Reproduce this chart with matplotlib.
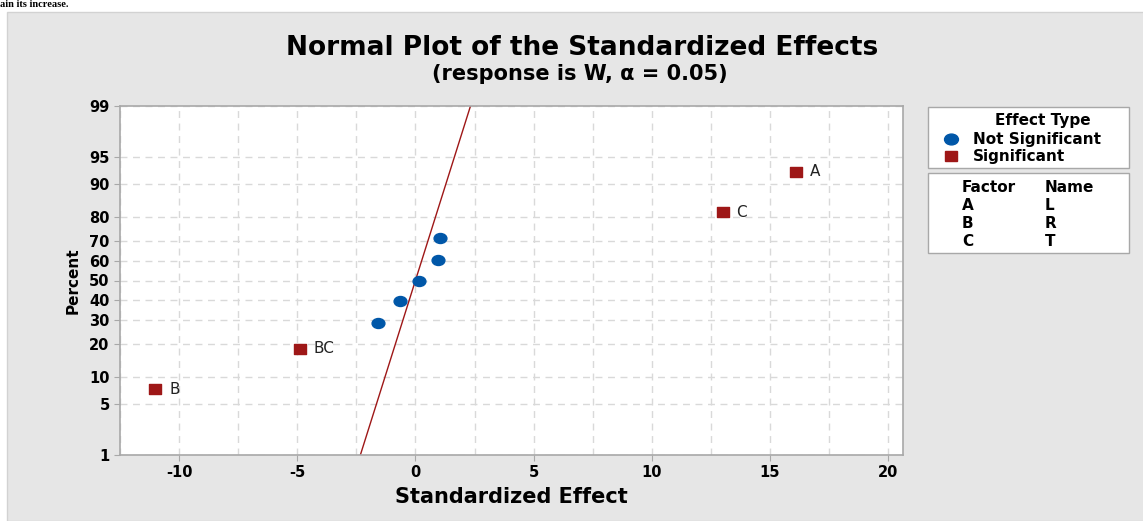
import math
import numpy as np
import matplotlib
matplotlib.use("Agg")
import matplotlib.pyplot as plt
from matplotlib.patches import Rectangle
from matplotlib.lines import Line2D
from matplotlib.markers import MarkerStyle
from matplotlib.transforms import Affine2D

plt.rcParams["axes.unicode_minus"] = False

# effects (standardized effect, percent)
sig_names = ["B", "BC", "C", "A"]
sig_effect = [-11.0, -4.9, 13.0, 16.1]
sig_pct = [7.4, 18.1, 81.9, 92.6]

ns_effect = [-1.6, -0.65, 0.15, 0.95, 1.05]
ns_pct = [28.7, 39.4, 50.0, 60.6, 71.3]

# fitted normal line
line_effect = [-2.33, 2.33]
line_pct = [1, 99]

yticks = [1, 5, 10, 20, 30, 40, 50, 60, 70, 80, 90, 95, 99]
xticks = [-10, -5, 0, 5, 10, 15, 20]

factors = ["A", "B", "C"]
names = ["L", "R", "T"]

blue = "#0057a8"
red = "#9e1717"


def _ppf1(p):
    # inverse normal cdf (Acklam) + one newton step
    p = min(max(p, 1e-9), 1 - 1e-9)
    a = [-3.969683028665376e+01, 2.209460984245205e+02, -2.759285104469687e+02,
         1.383577518672690e+02, -3.066479806614716e+01, 2.506628277459239e+00]
    b = [-5.447609879822406e+01, 1.615858368580409e+02, -1.556989798598866e+02,
         6.680131188771972e+01, -1.328068155288572e+01]
    c = [-7.784894002430293e-03, -3.223964580411365e-01, -2.400758277161838e+00,
         -2.549732539343734e+00, 4.374664141464968e+00, 2.938163982698783e+00]
    d = [7.784695709041462e-03, 3.224671290700398e-01, 2.445134137142996e+00,
         3.754408661907416e+00]
    if p < 0.02425:
        q = math.sqrt(-2 * math.log(p))
        x = (((((c[0]*q+c[1])*q+c[2])*q+c[3])*q+c[4])*q+c[5]) / ((((d[0]*q+d[1])*q+d[2])*q+d[3])*q+1)
    elif p > 1 - 0.02425:
        q = math.sqrt(-2 * math.log(1 - p))
        x = -(((((c[0]*q+c[1])*q+c[2])*q+c[3])*q+c[4])*q+c[5]) / ((((d[0]*q+d[1])*q+d[2])*q+d[3])*q+1)
    else:
        q = p - 0.5
        r = q * q
        x = (((((a[0]*r+a[1])*r+a[2])*r+a[3])*r+a[4])*r+a[5])*q / (((((b[0]*r+b[1])*r+b[2])*r+b[3])*r+b[4])*r+1)
    e = 0.5 * math.erfc(-x / math.sqrt(2)) - p
    u = e * math.sqrt(2 * math.pi) * math.exp(x * x / 2)
    return x - u / (1 + x * u / 2)


def fwd(pct):
    return np.vectorize(lambda v: _ppf1(v / 100.0), otypes=[float])(pct)


def inv(z):
    return np.vectorize(lambda v: 50.0 * math.erfc(-v / math.sqrt(2)), otypes=[float])(z)


def px(x, y):
    return x / 1143, 1 - y / 521


# slightly flattened markers like the original
squash = Affine2D().scale(1, 0.78)
m_circ = MarkerStyle("o", transform=squash)
m_sq = MarkerStyle("s", transform=squash)

fig = plt.figure(figsize=(11.43, 5.21), dpi=100)
fig.patch.set_facecolor("white")
fig.patches.append(Rectangle((7 / 1143, 0), 1, (521 - 12) / 521, transform=fig.transFigure,
                             facecolor="#e6e6e6", edgecolor="#d2d2d2", lw=1, zorder=-5))
fig.text(0.0, 1.0, "ain its increase.", family="Liberation Serif", weight="bold",
         fontsize=7.5, va="top", ha="left")

ax = fig.add_axes([120 / 1143, 66 / 521, 783 / 1143, 349 / 521])
ax.set_zorder(2)
ax.set_yscale("function", functions=(fwd, inv))
ax.set_facecolor("white")

ax.plot(line_effect, line_pct, color=red, lw=1, zorder=2)
ax.scatter(ns_effect, ns_pct, marker=m_circ, s=85, color=blue, zorder=3)
ax.scatter(sig_effect, sig_pct, marker=m_sq, s=80, color=red, zorder=3)
for n, x, y in zip(sig_names, sig_effect, sig_pct):
    ax.annotate(n, (x, y), xytext=(10, 0), textcoords="offset points", va="center",
                fontsize=11, color="#222222")

ax.set_xlim(-12.45, 20.63)
ax.set_ylim(1, 99)
ax.set_xticks(xticks)
ax.set_xticks(np.arange(-12.5, 20.1, 2.5), minor=True)
ax.set_yticks(yticks)
ax.set_yticklabels([str(t) for t in yticks])
ax.yaxis.set_minor_locator(matplotlib.ticker.NullLocator())
ax.grid(True, which="both", axis="x", ls=(0, (5, 4)), color="#d9d9d9", lw=1)
ax.grid(True, which="major", axis="y", ls=(0, (5, 4)), color="#d9d9d9", lw=1)
ax.set_axisbelow(True)
for s in ax.spines.values():
    s.set_color("#a8a8a8")
    s.set_linewidth(1.2)
ax.tick_params(axis="both", which="major", labelsize=10.5, color="#a8a8a8", length=4)
ax.tick_params(axis="x", which="minor", length=0)
for lab in ax.get_xticklabels() + ax.get_yticklabels():
    lab.set_fontweight("bold")

ax.set_xlabel("Standardized Effect", fontsize=15, fontweight="bold", labelpad=5)
ax.set_ylabel("Percent", fontsize=11, fontweight="bold", labelpad=6)

fig.text(*px(582, 48), "Normal Plot of the Standardized Effects", ha="center",
         va="center", fontsize=19, fontweight="bold")
fig.text(*px(580, 74), "(response is W, α = 0.05)", ha="center",
         va="center", fontsize=15, fontweight="bold")

# legend boxes
for y0, y1 in [(107, 168), (173, 253)]:
    fig.patches.append(Rectangle(px(928, y1), 201 / 1143, (y1 - y0) / 521, transform=fig.transFigure,
                                 facecolor="white", edgecolor="#a8a8a8", lw=1, zorder=1))
fig.text(*px(1043, 120), "Effect Type", ha="center", va="center", fontsize=11, fontweight="bold")
fig.add_artist(Line2D([951 / 1143], [1 - 139 / 521], marker=m_circ, ms=10, color=blue, ls="none",
                      transform=fig.transFigure))
fig.add_artist(Line2D([951 / 1143], [1 - 156 / 521], marker=m_sq, ms=9, color=red, ls="none",
                      transform=fig.transFigure))
fig.text(*px(973, 139), "Not Significant", va="center", fontsize=11, fontweight="bold")
fig.text(*px(973, 156), "Significant", va="center", fontsize=11, fontweight="bold")
fig.text(*px(962, 187), "Factor", va="center", fontsize=11, fontweight="bold")
fig.text(*px(1045, 187), "Name", va="center", fontsize=11, fontweight="bold")
for i, (f, n) in enumerate(zip(factors, names)):
    fig.text(*px(962, 205 + 18 * i), f, va="center", fontsize=11, fontweight="bold")
    fig.text(*px(1045, 205 + 18 * i), n, va="center", fontsize=11, fontweight="bold")

fig.savefig("out.png", dpi=100)
